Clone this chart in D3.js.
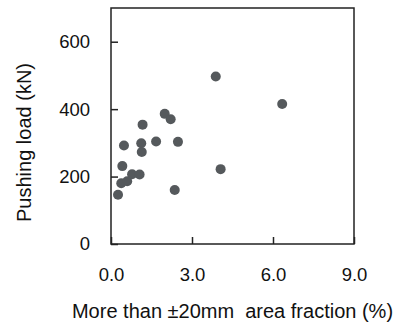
<!DOCTYPE html>
<html><head><meta charset="utf-8">
<script src="https://cdn.jsdelivr.net/npm/d3@7"></script>
<style>body{margin:0;background:#fff}svg{display:block}text{font-family:"Liberation Sans",Arial,sans-serif;fill:#111}</style>
</head><body><svg id="c" width="394" height="325"></svg>
<script>
const xValues = [0.26,0.38,0.42,0.48,0.60,0.78,1.06,1.12,1.14,1.17,1.67,1.99,2.21,2.36,2.48,3.88,4.06,6.34];
const yValues = [146,180,231,292,186,207,206,299,273,354,304,386,370,160,303,497,222,415];
const xTicks = [0,3,6,9];
const yTicks = [0,200,400,600];
const xTitle = "More than ±20mm  area fraction (%)";
const yTitle = "Pushing load (kN)";

const svg = d3.select("#c");
const L=111,R=354,T=8,B=244;
const x = d3.scaleLinear().domain([0,9]).range([L,R]);
const y = d3.scaleLinear().domain([0,700]).range([B,T]);

svg.append("rect").attr("x",L).attr("y",T).attr("width",R-L).attr("height",B-T)
  .attr("fill","none").attr("stroke","#222").attr("stroke-width",1.5);

const yAxis = svg.append("g").attr("transform",`translate(${L},0)`)
  .call(d3.axisLeft(y).tickValues(yTicks).tickSizeInner(-7).tickSizeOuter(0).tickPadding(21));
yAxis.select(".domain").remove();
yAxis.selectAll("line").attr("stroke","#222").attr("stroke-width",1.5);
yAxis.selectAll("text").attr("font-size",18.5).attr("font-family","Liberation Sans, Arial, sans-serif").attr("fill","#111");

const xAxis = svg.append("g").attr("transform",`translate(0,${B})`)
  .call(d3.axisBottom(x).tickValues(xTicks).tickFormat(d3.format(".1f")).tickSizeInner(-7).tickSizeOuter(0).tickPadding(24));
xAxis.select(".domain").remove();
xAxis.selectAll("line").attr("stroke","#222").attr("stroke-width",1.5);
xAxis.selectAll("text").attr("font-size",18.5).attr("font-family","Liberation Sans, Arial, sans-serif").attr("fill","#111");

svg.append("g").selectAll("circle").data(xValues).join("circle")
  .attr("cx",(d)=>x(d)).attr("cy",(d,i)=>y(yValues[i])).attr("r",5)
  .attr("fill","#55595c");

svg.append("text").attr("x",(L+R)/2).attr("y",318).attr("text-anchor","middle")
  .attr("font-size",20).style("white-space","pre").text(xTitle);
svg.append("text").attr("transform","translate(31,142.5) rotate(-90)").attr("text-anchor","middle")
  .attr("font-size",20).text(yTitle);
</script></body></html>
